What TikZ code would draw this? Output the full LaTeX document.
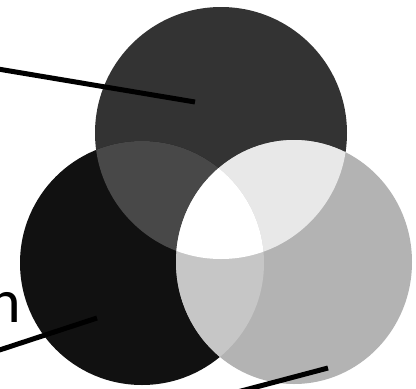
\documentclass[tikz,border=0pt]{standalone}
\usepackage{fontspec}
\setmainfont{Carlito}
\definecolor{ctop}{HTML}{333333}
\definecolor{cleft}{HTML}{111111}
\definecolor{cright}{HTML}{B3B3B3}
\definecolor{ctl}{HTML}{484848}
\definecolor{ctr}{HTML}{E8E8E8}
\definecolor{clr}{HTML}{C6C6C6}
\definecolor{call}{HTML}{FFFFFF}
\tikzset{
  leader/.style={draw=black, line width=5pt},
  label/.style={inner sep=0pt, font=\fontsize{62}{62}\selectfont}
}
\newcommand{\topc}{(221,133) circle [radius=126]}
\newcommand{\leftc}{(142,263) circle [radius=122]}
\newcommand{\rightc}{(294,262) ellipse [x radius=118, y radius=122]}
\begin{document}
\begin{tikzpicture}[x=1pt,y=-1pt]
\useasboundingbox (0,0) rectangle (416,389);
\clip (0,0) rectangle (416,389);
\fill[white] (0,0) rectangle (416,389);
% circles
\fill[ctop] \topc;
\fill[cleft] \leftc;
\fill[cright] \rightc;
% pairwise overlaps
\begin{scope}\clip \topc; \fill[ctl] \leftc; \end{scope}
\begin{scope}\clip \topc; \fill[ctr] \rightc; \end{scope}
\begin{scope}\clip \leftc; \fill[clr] \rightc; \end{scope}
% triple overlap
\begin{scope}\clip \topc; \clip \leftc; \fill[call] \rightc; \end{scope}
% partial label
\node[label, anchor=base east] (lbl) at (21,322) {n};
% leader lines
\coordinate (a1) at (-2,69);
\coordinate (a2) at (195,102);
\coordinate (b1) at (-2,350.5);
\coordinate (b2) at (97,318);
\coordinate (c1) at (226,395);
\coordinate (c2) at (328,368);
\draw[leader] (a1) -- (a2);
\draw[leader] (b1) -- (b2);
\draw[leader] (c1) -- (c2);
\end{tikzpicture}
\end{document}
